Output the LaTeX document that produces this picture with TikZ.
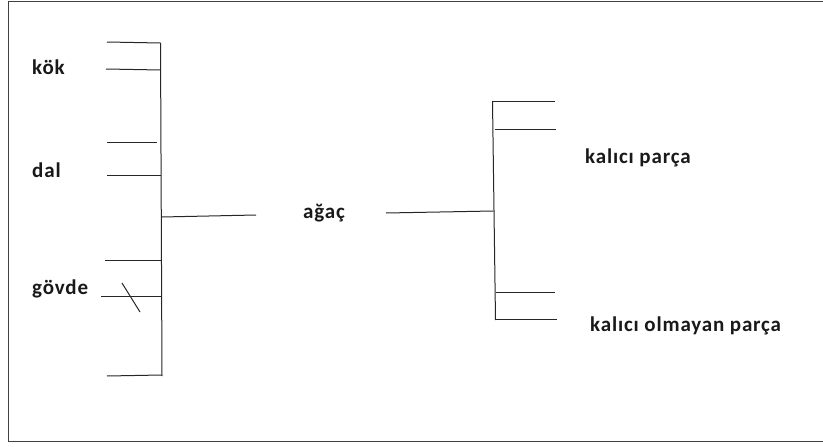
\documentclass[tikz,border=0pt]{standalone}
\usepackage{fontspec}
\setmainfont{Carlito}
\newfontfamily\lblfont[LetterSpace=4]{Carlito}
\begin{document}
\begin{tikzpicture}[x=1pt,y=-1pt,
  ln/.style={draw=black!85, line width=1pt},
  frm/.style={draw=black!75, line width=1.6pt},
  lbl/.style={font=\lblfont\fontsize{21}{24}\selectfont\bfseries, inner sep=0pt, anchor=base west, text=black!90}]
\useasboundingbox (0,0) rectangle (823,447);
\draw[frm] (823,1.5) -- (8.5,1.5) -- (8.5,441.5) -- (823,441.5);
% left bracket
\coordinate (lt) at (160.5,43);
\coordinate (lb) at (162,376);
\draw[ln] (lt) -- (lb);
\coordinate (a1) at (107,42); \coordinate (a2) at (160.5,43);
\draw[ln] (a1) -- (a2);
\coordinate (b1) at (106,69); \coordinate (b2) at (160.5,70);
\draw[ln] (b1) -- (b2);
\coordinate (c1) at (107,142); \coordinate (c2) at (157,142);
\draw[ln] (c1) -- (c2);
\coordinate (d1) at (107,175); \coordinate (d2) at (161,175);
\draw[ln] (d1) -- (d2);
\coordinate (e1) at (105,260); \coordinate (e2) at (161,260);
\draw[ln] (e1) -- (e2);
\coordinate (f1) at (101,296); \coordinate (f2) at (161,296);
\draw[ln] (f1) -- (f2);
\coordinate (s1) at (122,283); \coordinate (s2) at (140,312);
\draw[ln] (s1) -- (s2);
\coordinate (g1) at (107,376); \coordinate (g2) at (162,375);
\draw[ln] (g1) -- (g2);
\coordinate (m1) at (161.5,217); \coordinate (m2) at (256,215);
\draw[ln] (m1) -- (m2);
% labels left
\node[lbl] (kok) at (32,74) {kök};
\node[lbl] (dal) at (32,177) {dal};
\node[lbl] (govde) at (32,294) {gövde};
\node[lbl] (agac) at (303,218) {ağaç};
% right bracket
\coordinate (r0) at (386,213);
\coordinate (rt) at (492.5,101);
\coordinate (rm) at (493.5,211);
\coordinate (rb) at (495.5,320);
\draw[ln] (r0) -- (rm);
\draw[ln] (rt) -- (rb);
\coordinate (p1) at (555,101);
\draw[ln] (rt) -- (p1);
\coordinate (q0) at (494.5,129); \coordinate (q1) at (556,129);
\draw[ln] (q0) -- (q1);
\coordinate (t0) at (496,292); \coordinate (t1) at (555,292);
\draw[ln] (t0) -- (t1);
\coordinate (u0) at (496,319); \coordinate (u1) at (557,319);
\draw[ln] (u0) -- (u1);
\node[lbl] (kp) at (585,163) {kalıcı parça};
\node[lbl] (kop) at (590,331) {kalıcı olmayan parça};
\end{tikzpicture}
\end{document}
